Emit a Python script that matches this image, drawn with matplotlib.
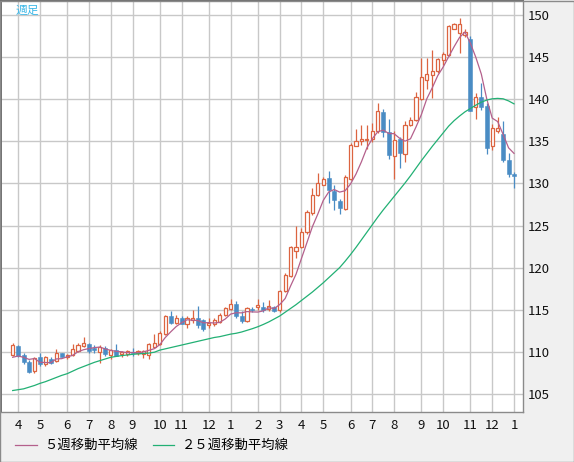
import numpy as np
import pandas as pd
import matplotlib
matplotlib.use("Agg")
import matplotlib.pyplot as plt
from matplotlib.lines import Line2D
from matplotlib.patches import Rectangle

plt.rcParams['font.family'] = ['Noto Sans CJK JP', 'DejaVu Sans']

# weekly candles, one row per week
opens = [109.64, 110.67, 109.64, 108.77, 107.74, 109.33, 108.54, 109.17, 108.93, 109.80,
         109.33, 109.64, 110.12, 110.67, 110.91, 110.44, 109.96, 110.51, 109.64, 110.20,
         109.72, 109.72, 109.92, 109.80, 109.72, 109.64, 110.55, 110.87, 112.14, 114.20,
         113.40, 114.04, 113.33, 113.72, 113.96, 113.72, 113.17, 113.25, 113.56, 114.36,
         115.07, 115.62, 114.20, 113.64, 115.07, 115.30, 115.38, 115.07, 115.30, 114.92,
         117.22, 118.97, 121.98, 122.46, 124.21, 126.43, 128.57, 129.84, 130.63, 129.13,
         127.86, 126.98, 130.56, 134.44, 135.08, 135.10, 135.24, 136.19, 138.49, 136.11,
         133.25, 135.24, 133.49, 136.90, 137.54, 140.08, 142.29, 142.85, 143.40, 144.66,
         145.22, 148.38, 147.91, 147.59, 147.11, 139.05, 140.24, 139.21, 134.39, 136.28,
         135.89, 132.81, 131.15]
highs = [110.99, 110.75, 109.80, 109.01, 109.33, 109.80, 109.56, 109.33, 110.28, 109.88,
         109.72, 110.91, 111.07, 111.70, 111.07, 110.75, 110.83, 110.67, 110.36, 110.91,
         110.12, 110.20, 110.51, 110.20, 110.20, 111.07, 112.14, 112.45, 114.43, 114.83,
         114.43, 114.28, 114.28, 114.99, 115.46, 113.88, 114.04, 113.96, 114.59, 115.30,
         116.33, 116.02, 114.83, 115.30, 115.30, 116.33, 115.94, 116.10, 115.46, 117.38,
         119.37, 122.62, 125.00, 124.76, 126.83, 129.44, 131.27, 130.71, 131.43, 129.84,
         128.10, 130.95, 134.76, 136.43, 136.90, 136.90, 137.22, 139.60, 138.89, 137.62,
         136.19, 135.52, 137.38, 137.86, 140.87, 144.90, 144.90, 145.85, 144.90, 145.61,
         148.85, 149.09, 149.64, 148.30, 147.51, 140.71, 141.90, 139.53, 137.08, 137.94,
         137.39, 133.60, 131.30]
lows = [109.49, 109.41, 108.54, 107.51, 107.43, 108.30, 108.30, 108.54, 108.77, 109.33,
        109.17, 109.49, 109.96, 110.59, 109.80, 109.88, 108.69, 109.56, 109.17, 109.49,
        109.33, 109.49, 109.49, 109.60, 109.25, 109.17, 110.40, 110.79, 111.98, 113.33,
        113.33, 113.25, 112.85, 113.48, 112.85, 112.53, 112.85, 113.09, 113.48, 114.20,
        114.99, 114.04, 113.48, 113.56, 114.75, 115.00, 114.75, 114.83, 114.67, 114.76,
        117.14, 118.89, 121.19, 122.38, 124.05, 126.27, 128.49, 129.76, 127.62, 126.90,
        126.35, 126.83, 130.40, 134.40, 134.52, 134.13, 134.92, 136.03, 135.52, 132.94,
        130.56, 131.83, 132.54, 136.83, 137.38, 139.92, 141.19, 140.16, 143.16, 144.03,
        145.14, 148.30, 145.45, 147.43, 138.58, 137.63, 138.74, 133.52, 133.99, 135.97,
        132.57, 130.75, 129.41]
closes = [110.75, 109.56, 108.77, 107.66, 109.25, 108.54, 109.41, 108.69, 109.88, 109.41,
          109.64, 110.28, 110.83, 111.07, 110.12, 110.20, 110.59, 109.72, 110.20, 109.56,
          109.96, 110.04, 109.84, 110.04, 110.04, 110.91, 111.03, 112.22, 114.28, 113.40,
          114.04, 113.33, 113.96, 114.04, 113.17, 112.69, 113.48, 113.72, 114.43, 115.15,
          115.62, 114.28, 113.64, 115.23, 114.91, 115.54, 114.99, 115.46, 114.83, 117.22,
          119.13, 122.46, 122.46, 124.21, 126.59, 128.57, 130.00, 130.56, 129.21, 128.02,
          127.06, 130.79, 134.60, 135.08, 135.32, 135.32, 136.27, 138.65, 136.11, 133.33,
          135.16, 133.57, 136.90, 137.54, 140.24, 142.61, 143.00, 143.40, 144.74, 145.38,
          148.70, 148.93, 148.93, 147.98, 138.66, 140.32, 139.05, 134.15, 136.60, 136.60,
          132.73, 131.07, 130.83]

# first four 5-week MA points need weeks before the window
ma5_head = [109.35, 109.50, 109.35, 109.10]
# 25-week MA
ma25 = [105.4, 105.5, 105.6, 105.8, 106.0, 106.25, 106.45, 106.7, 106.95, 107.2,
        107.4, 107.7, 108.0, 108.25, 108.5, 108.75, 108.95, 109.15, 109.35, 109.45,
        109.55, 109.62, 109.7, 109.75, 109.8, 109.85, 109.95, 110.2, 110.35, 110.5,
        110.65, 110.8, 110.95, 111.1, 111.25, 111.4, 111.55, 111.7, 111.8, 111.95,
        112.1, 112.2, 112.35, 112.55, 112.75, 112.98, 113.25, 113.55, 113.9, 114.25,
        114.7, 115.15, 115.6, 116.1, 116.6, 117.1, 117.65, 118.2, 118.8, 119.4,
        120.0, 120.75, 121.55, 122.4, 123.3, 124.2, 125.1, 126.0, 126.85, 127.65,
        128.45, 129.25, 130.05, 130.9, 131.8, 132.7, 133.55, 134.4, 135.2, 136.0,
        136.8, 137.45, 138.0, 138.5, 138.9, 139.3, 139.65, 139.9, 140.05, 140.1,
        140.05, 139.8, 139.45]

month_pos = [1, 5, 10, 14, 18, 22, 27, 31, 36, 40, 45, 49, 53, 57, 62, 66, 70, 75, 79, 84, 88, 92]
month_labels = ['4', '5', '6', '7', '8', '9', '10', '11', '12', '1', '2', '3',
                '4', '5', '6', '7', '8', '9', '10', '11', '12', '1']
price_ticks = [105, 110, 115, 120, 125, 130, 135, 140, 145, 150]

df = pd.DataFrame({'open': opens, 'high': highs, 'low': lows, 'close': closes})
df['ma5'] = df['close'].rolling(5).mean()
df.loc[:3, 'ma5'] = ma5_head
df['ma25'] = ma25
x = np.arange(len(df))

UP = '#dc6440'
DOWN = '#4a8cc4'
MA5_C = '#b4608c'
MA25_C = '#22b074'

W, H = 574, 462
fig = plt.figure(figsize=(W / 100, H / 100), dpi=100, facecolor='#f0f0f0')
ax = fig.add_axes([0.8 / W, (H - 412) / H, 522.2 / W, 411.2 / H])
ax.set_facecolor('white')

up = df['close'] >= df['open']
colors = np.where(up, UP, DOWN)

ax.vlines(x, df['low'], df['high'], colors=colors, linewidth=0.9, zorder=3)
bottoms = np.minimum(df['open'], df['close'])
heights = np.maximum((df['close'] - df['open']).abs(), 0.08)
ax.bar(x[up], heights[up], bottom=bottoms[up], width=0.58,
       facecolor='white', edgecolor=UP, linewidth=0.9, zorder=4)
ax.bar(x[~up], heights[~up], bottom=bottoms[~up], width=0.72,
       facecolor=DOWN, edgecolor=DOWN, linewidth=0.4, zorder=4)

ax.plot(x, df['ma5'], color=MA5_C, linewidth=0.9, zorder=5)
ax.plot(x, df['ma25'], color=MA25_C, linewidth=0.9, zorder=5)

ax.set_xlim(-2.18, 93.65)
ax.set_ylim(102.85, 151.69)
ax.set_xticks(month_pos)
ax.set_xticklabels(month_labels)
ax.set_yticks(price_ticks)
ax.yaxis.tick_right()
ax.tick_params(axis='both', length=0, labelsize=9.5, colors='#111111')
ax.tick_params(axis='x', pad=5)
ax.tick_params(axis='y', pad=3.5)
ax.grid(True, color='#c8c8c8', linewidth=1.0)
ax.set_axisbelow(True)
for side in ['left', 'top']:
    ax.spines[side].set_color('#6e6e6e')
    ax.spines[side].set_linewidth(1.4)
for side in ['right', 'bottom']:
    ax.spines[side].set_color('#8a8a8a')
    ax.spines[side].set_linewidth(1.0)

ax.text(15 / 522.2, 1 - 3 / 411.2, '週足', transform=ax.transAxes,
        ha='left', va='top', fontsize=8.5, color='#3cb8e8')

# legend drawn under the plot
ly = 1 - 445 / H
fig.add_artist(Line2D([15 / W, 37 / W], [ly, ly], color=MA5_C, linewidth=0.9))
fig.text(44 / W, ly, '５週移動平均線', ha='left', va='center', fontsize=9.6)
fig.add_artist(Line2D([153 / W, 174 / W], [ly, ly], color=MA25_C, linewidth=0.9))
fig.text(182 / W, ly, '２５週移動平均線', ha='left', va='center', fontsize=9.6)

fig.add_artist(Rectangle((0, 0), 1 - 0.5 / W, 1 - 0.5 / H, transform=fig.transFigure,
                         fill=False, edgecolor='#8a8a8a', linewidth=1.0))

fig.savefig('out.png', dpi=100, facecolor=fig.get_facecolor())
